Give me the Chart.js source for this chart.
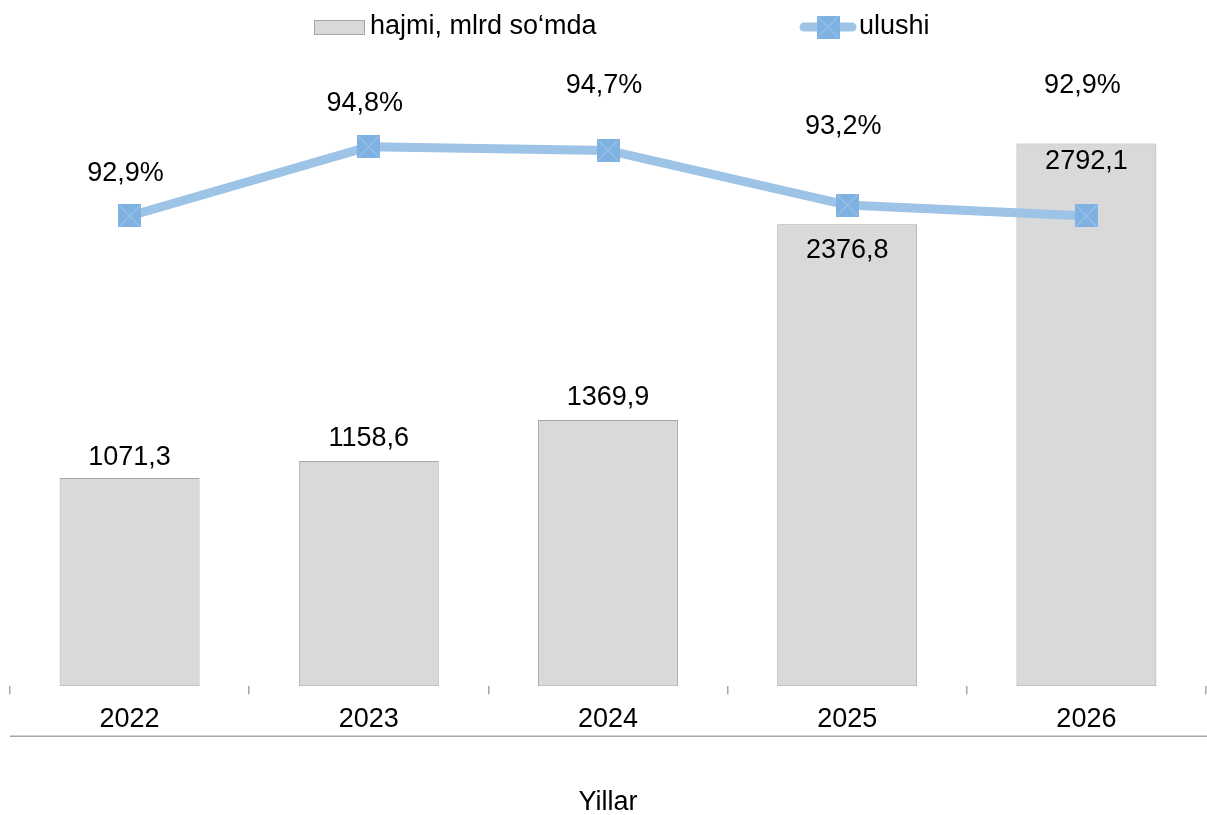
<!DOCTYPE html>
<html>
<head>
<meta charset="utf-8">
<script src="https://cdn.jsdelivr.net/npm/chart.js@4.4.1/dist/chart.umd.min.js"></script>
<style>
  html, body { margin: 0; padding: 0; background: #ffffff; }
  #wrap { width: 1207px; height: 815px; position: relative; }
</style>
</head>
<body>
<div id="wrap"><canvas id="c" width="1207" height="815"></canvas></div>
<script>
// ---- data ----
const categories = ['2022', '2023', '2024', '2025', '2026'];
const volumeValues = [1071.3, 1158.6, 1369.9, 2376.8, 2792.1];
const shareValues = [92.9, 94.8, 94.7, 93.2, 92.9];
const volumeLabel = 'hajmi, mlrd so\u2018mda';
const shareLabel = 'ulushi';
const axisTitle = 'Yillar';

// ---- styles ----
const FONT = '"Liberation Sans", Arial, sans-serif';
const FS = 27;
const BAR_FILL = '#D9D9D9';
const BAR_BORDER = '#A6A6A6';
const LINE_COLOR = '#9DC3E6';
const MARK_FILL = '#7FB2E2';
const MARK_X = '#ABCBEA';

function fmt(v, d) { return v.toFixed(d).replace('.', ','); }

function makeMarker(size) {
  const cv = document.createElement('canvas');
  cv.width = size; cv.height = size;
  const g = cv.getContext('2d');
  g.fillStyle = MARK_FILL;
  g.fillRect(0, 0, size, size);
  g.strokeStyle = MARK_X;
  g.lineWidth = 1;
  g.beginPath();
  g.moveTo(1, 1); g.lineTo(size - 1, size - 1);
  g.moveTo(size - 1, 1); g.lineTo(1, size - 1);
  g.stroke();
  return cv;
}
const marker = makeMarker(23);

const labelPlugin = {
  id: 'valueLabels',
  afterDatasetsDraw(chart, args, opts) {
    const ctx = chart.ctx;
    ctx.save();
    ctx.font = FS + 'px ' + FONT;
    ctx.fillStyle = '#000000';
    ctx.textAlign = 'center';
    ctx.textBaseline = 'middle';
    const barMeta = chart.getDatasetMeta(0);
    barMeta.data.forEach((el, i) => {
      ctx.fillText(fmt(volumeValues[i], 1), el.x, el.y + opts.barOffsets[i]);
    });
    const lineMeta = chart.getDatasetMeta(1);
    lineMeta.data.forEach((el, i) => {
      ctx.fillText(fmt(shareValues[i], 1) + '%', el.x - 4, el.y + opts.lineOffsets[i]);
    });
    ctx.restore();
  }
};

const decorPlugin = {
  id: 'decor',
  afterDraw(chart) {
    const ctx = chart.ctx;
    const ca = chart.chartArea;
    ctx.save();
    // axis rule below tick labels
    ctx.strokeStyle = '#A6A6A6';
    ctx.lineWidth = 1.5;
    ctx.beginPath();
    ctx.moveTo(ca.left, ca.bottom + 50);
    ctx.lineTo(chart.width, ca.bottom + 50);
    ctx.stroke();

    // legend
    const ly = 27;
    ctx.font = FS + 'px ' + FONT;
    ctx.textBaseline = 'middle';
    ctx.textAlign = 'left';
    ctx.fillStyle = BAR_FILL;
    ctx.fillRect(314.5, 20.5, 50, 14);
    ctx.strokeStyle = BAR_BORDER;
    ctx.lineWidth = 1;
    ctx.strokeRect(314.5, 20.5, 50, 14);
    ctx.fillStyle = '#000000';
    ctx.fillText(volumeLabel, 370, ly);

    ctx.strokeStyle = LINE_COLOR;
    ctx.lineWidth = 9;
    ctx.lineCap = 'round';
    ctx.beginPath();
    ctx.moveTo(804, ly);
    ctx.lineTo(852, ly);
    ctx.stroke();
    ctx.drawImage(marker, 828 - 11.5, ly - 11.5);
    ctx.fillStyle = '#000000';
    ctx.fillText(shareLabel, 859, ly);
    ctx.restore();
  }
};

new Chart(document.getElementById('c'), {
  type: 'bar',
  data: {
    labels: categories,
    datasets: [
      {
        type: 'bar',
        label: volumeLabel,
        data: volumeValues,
        backgroundColor: BAR_FILL,
        borderColor: BAR_BORDER,
        borderWidth: 1,
        borderSkipped: false,
        categoryPercentage: 1,
        barPercentage: 0.585,
        yAxisID: 'y',
        order: 1
      },
      {
        type: 'line',
        label: shareLabel,
        data: shareValues,
        borderColor: LINE_COLOR,
        borderWidth: 9,
        pointStyle: marker,
        pointRadius: 11.5,
        pointHoverRadius: 11.5,
        tension: 0,
        fill: false,
        clip: false,
        yAxisID: 'y2',
        order: 0
      }
    ]
  },
  options: {
    responsive: false,
    animation: false,
    events: [],
    layout: { autoPadding: false, padding: { top: 103, left: 10, right: 1, bottom: 0 } },
    plugins: {
      legend: { display: false },
      tooltip: { enabled: false },
      valueLabels: {
        barOffsets: [-20, -22, -22, 26, 18],
        lineOffsets: [-42, -43, -65, -79, -130]
      }
    },
    scales: {
      x: {
        offset: true,
        border: { display: false },
        grid: {
          offset: true,
          drawOnChartArea: false,
          drawTicks: true,
          tickLength: 8,
          color: '#A6A6A6',
          lineWidth: 1.5
        },
        ticks: {
          color: '#000000',
          font: { family: FONT, size: FS },
          padding: 9,
          maxRotation: 0
        },
        title: {
          display: true,
          text: axisTitle,
          color: '#000000',
          font: { family: FONT, size: FS },
          padding: { top: 42, bottom: -4 }
        }
      },
      y: {
        display: false,
        min: 0,
        max: 3000
      },
      y2: {
        display: false,
        position: 'right',
        min: 80,
        max: 96
      }
    }
  },
  plugins: [labelPlugin, decorPlugin]
});
</script>
</body>
</html>
